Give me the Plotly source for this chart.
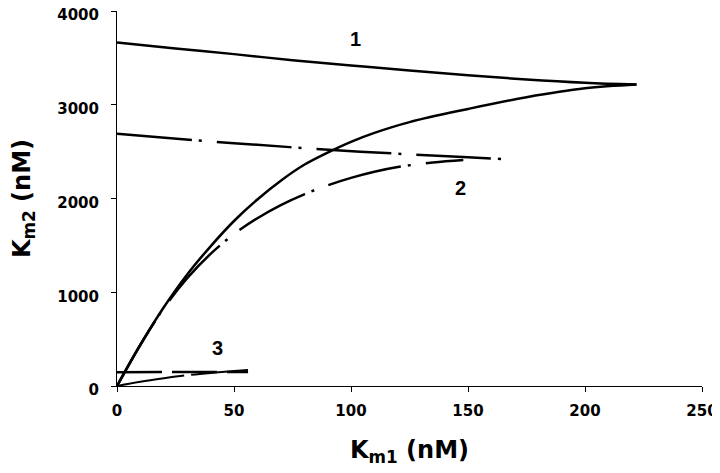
import plotly.graph_objects as go

# Curve 1 (solid)
c1_top_x = [0, 25, 50, 75, 100, 125, 150, 175, 200, 222]
c1_top_y = [3665, 3600, 3540, 3475, 3420, 3365, 3315, 3270, 3235, 3215]
c1_low_x = [0, 10, 20, 30, 40, 50, 60, 70, 80, 90, 100, 110, 125, 150, 175, 200, 222]
c1_low_y = [0, 440, 840, 1190, 1490, 1760, 1990, 2190, 2360, 2490, 2605, 2700, 2815, 2955, 3080, 3175, 3215]

# Curve 2 (dash-dot)
c2_top_x = [0, 50, 104, 150, 165]
c2_top_y = [2690, 2590, 2500, 2440, 2420]
c2_low_x = [0, 10, 20, 30, 40, 50, 60, 70, 80, 90, 100, 110, 120, 135, 148]
c2_low_y = [0, 440, 830, 1150, 1410, 1620, 1790, 1930, 2045, 2140, 2220, 2285, 2335, 2385, 2412]

# Curve 3 (long dash)
c3_top_x = [0, 56]
c3_top_y = [147, 150]
c3_low_x = [0, 10, 20, 30, 40, 50, 56]
c3_low_y = [0, 45, 82, 115, 140, 160, 172]

labels = ["1", "2", "3"]
label_x = [102, 147, 43]
label_y = [3700, 2115, 410]

x_ticks = [0, 50, 100, 150, 200, 250]
y_ticks = [0, 1000, 2000, 3000, 4000]

fig = go.Figure()
black = "#000000"
dashdot = "75px,7px,3px,15px"
fig.add_trace(go.Scatter(x=c1_top_x, y=c1_top_y, mode="lines", line=dict(color=black, width=2.5, shape="spline")))
fig.add_trace(go.Scatter(x=c1_low_x, y=c1_low_y, mode="lines", line=dict(color=black, width=2.5, shape="spline")))
fig.add_trace(go.Scatter(x=c2_top_x, y=c2_top_y, mode="lines", line=dict(color=black, width=2.5, shape="spline", dash=dashdot)))
fig.add_trace(go.Scatter(x=c2_low_x, y=c2_low_y, mode="lines", line=dict(color=black, width=2.5, shape="spline", dash=dashdot)))
fig.add_trace(go.Scatter(x=c3_top_x, y=c3_top_y, mode="lines", line=dict(color=black, width=2.5, dash="45px,10px")))
fig.add_trace(go.Scatter(x=c3_low_x, y=c3_low_y, mode="lines", line=dict(color=black, width=2, shape="spline", dash="68px,7px")))

for t, x, y in zip(labels, label_x, label_y):
    fig.add_annotation(x=x, y=y, text="<b>%s</b>" % t, showarrow=False,
                       font=dict(family="Liberation Sans, Arial", size=20, color=black))

axis_common = dict(showgrid=False, zeroline=False, showline=True, linecolor=black, linewidth=1,
                   ticks="outside", ticklen=5, tickcolor=black, tickwidth=1, automargin=False,
                   ticklabeloverflow="allow",
                   tickfont=dict(family="DejaVu Sans", size=15, color=black))

title_font = dict(family="DejaVu Sans", size=24, color=black)

fig.update_xaxes(range=[0, 250], tickvals=x_ticks, ticktext=["<b>%d</b>" % v for v in x_ticks],
                 ticklabelstandoff=6,
                 title=dict(text="<b>K<sub>m1</sub> (nM)</b>", standoff=22, font=title_font),
                 **axis_common)
fig.update_yaxes(range=[0, 4000], tickvals=y_ticks, ticktext=["<b>%d</b>" % v for v in y_ticks],
                 ticklabelstandoff=9, ticklabelshift=4,
                 title=dict(text="<b>K<sub>m2</sub> (nM)</b>", standoff=24, font=title_font),
                 **axis_common)

# page body has a default 8px margin, so the figure is sized to fit the window
fig.update_layout(width=712, height=465, showlegend=False,
                  paper_bgcolor="white", plot_bgcolor="white",
                  margin=dict(l=109, r=18, t=3, b=87))

fig.write_html("out.html")
